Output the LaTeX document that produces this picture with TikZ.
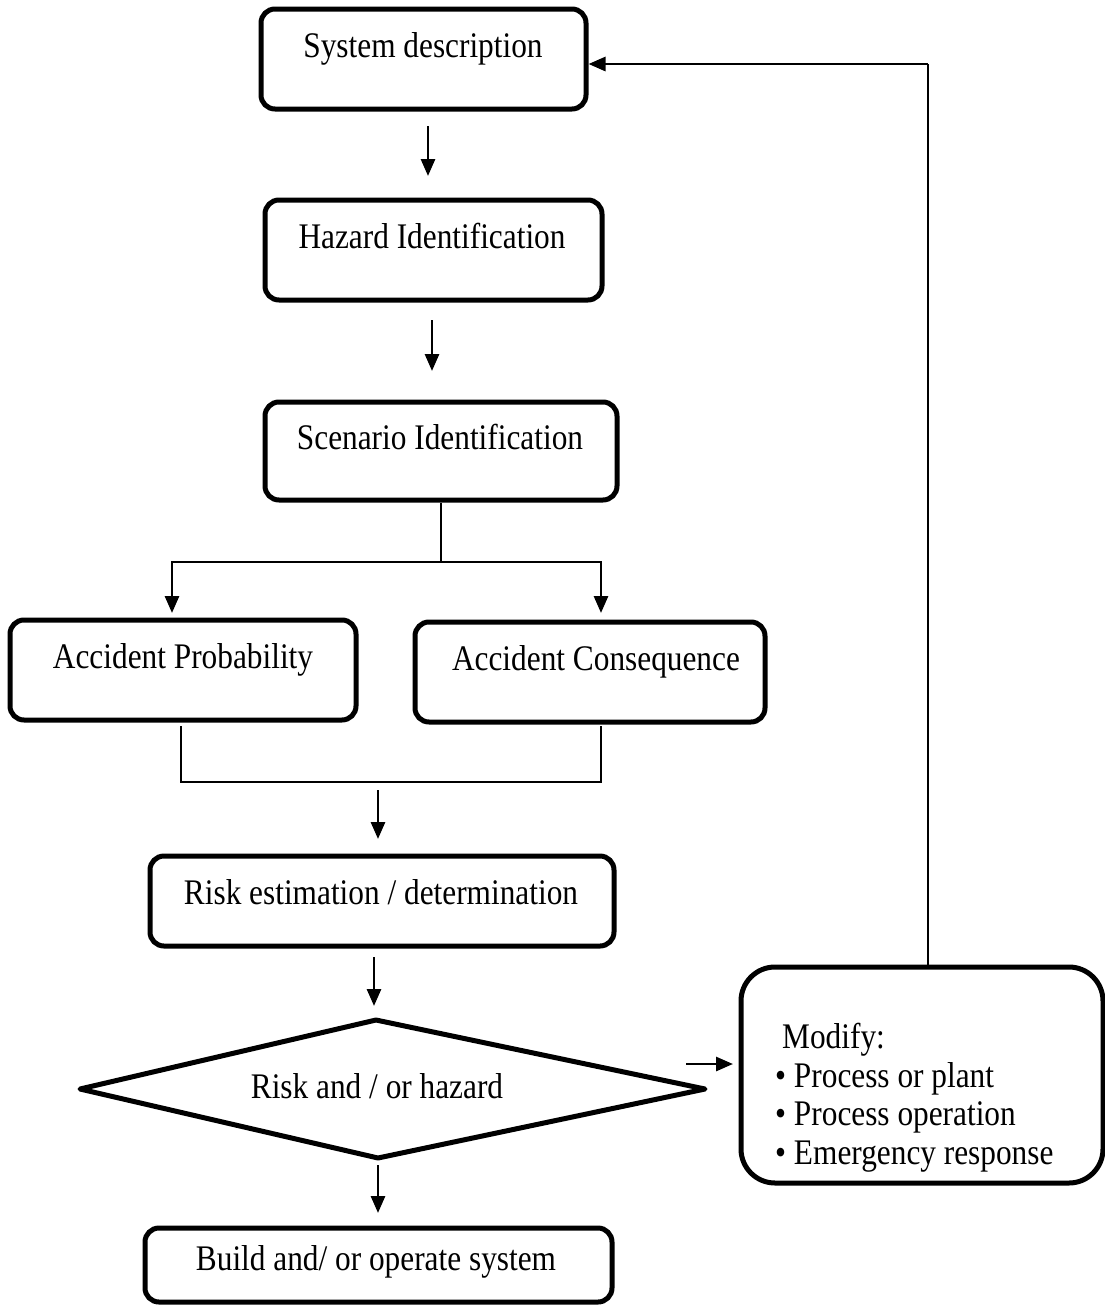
\documentclass[tikz,border=0pt]{standalone}
\usepackage{fontspec}
\setmainfont{Liberation Serif}[FakeStretch=0.87]
\usetikzlibrary{arrows.meta}
\begin{document}
\begin{tikzpicture}[x=1pt,y=-1pt,
  stepbox/.style={draw, line width=5pt, rounded corners=14pt, inner sep=0pt},
  lbl/.style={anchor=base, inner sep=0pt, font=\fontsize{36}{40}\selectfont},
  lbll/.style={anchor=base west, inner sep=0pt, font=\fontsize{36}{40}\selectfont},
  flow/.style={line width=2.8pt, -{Triangle[width=14pt,length=17pt]}},
  link/.style={line width=1.8pt}]
\useasboundingbox (0,0) rectangle (1104,1310);

% process boxes
\node[stepbox, minimum width=325pt, minimum height=100pt] (b1) at (423.5,59) {};
\node[stepbox, minimum width=337pt, minimum height=100pt] (b2) at (433.5,250) {};
\node[stepbox, minimum width=352pt, minimum height=98pt] (b3) at (441,451) {};
\node[stepbox, minimum width=346pt, minimum height=100pt] (b4) at (183,670) {};
\node[stepbox, minimum width=350pt, minimum height=100pt] (b5) at (590,672) {};
\node[stepbox, minimum width=464pt, minimum height=90pt] (b6) at (382,901) {};
\node[stepbox, minimum width=467pt, minimum height=74pt] (b7) at (378.5,1265) {};
\node[stepbox, rounded corners=34pt, minimum width=362pt, minimum height=216pt] (mod) at (922,1075) {};

% labels
\node[lbl] (t1) at (423,57) {System description};
\node[lbl] (t2) at (432,248) {Hazard Identification};
\node[lbl] (t3) at (440,449) {Scenario Identification};
\node[lbl] (t4) at (183,668) {Accident Probability};
\node[lbl] (t5) at (596,670) {Accident Consequence};
\node[lbl] (t6) at (381,904) {Risk estimation / determination};
\node[lbl] (t7) at (377,1098) {Risk and / or hazard};
\node[lbl] (t8) at (376,1270) {Build and/ or operate system};
\node[lbll] (m0) at (782,1048) {Modify:};
\node[lbll] (m1) at (775,1087) {• Process or plant};
\node[lbll] (m2) at (775,1125) {• Process operation};
\node[lbll] (m3) at (775,1164) {• Emergency response};

% decision diamond
\coordinate (dt) at (376,1020);
\coordinate (dr) at (705,1089);
\coordinate (db) at (378,1158);
\coordinate (dl) at (80,1089);
\draw[line width=5pt, line join=round] (dt) -- (dr) -- (db) -- (dl) -- cycle;

% free-standing step arrows
\coordinate (a1s) at (428,126);  \coordinate (a1e) at (428,176);
\coordinate (a2s) at (432,320);  \coordinate (a2e) at (432,371);
\coordinate (a3s) at (378,790);  \coordinate (a3e) at (378,839);
\coordinate (a4s) at (374,957);  \coordinate (a4e) at (374,1006);
\coordinate (a5s) at (378,1165); \coordinate (a5e) at (378,1213);
\coordinate (a6s) at (686,1064); \coordinate (a6e) at (733,1064);
\draw[flow] (a1s) -- (a1e);
\draw[flow] (a2s) -- (a2e);
\draw[flow] (a3s) -- (a3e);
\draw[flow] (a4s) -- (a4e);
\draw[flow] (a5s) -- (a5e);
\draw[flow] (a6s) -- (a6e);

% split below the scenarios
\coordinate (sp) at (441,562);
\coordinate (sl) at (172,613);
\coordinate (sr) at (601,613);
\draw[link] (b3.south -| sp) -- (sp);
\draw[flow] (sp) -| (sl);
\draw[flow] (sp) -| (sr);

% merge of probability and consequence
\coordinate (ml) at (181,782);
\coordinate (mr) at (601,782);
\draw[link] (181,726) -- (ml) -- (mr) -- (601,726);

% feedback to the system description
\coordinate (fb) at (928,64);
\draw[link] (mod.north -| fb) -- (fb);
\draw[flow] (fb) -- (fb -| b1.east);
\end{tikzpicture}
\end{document}
